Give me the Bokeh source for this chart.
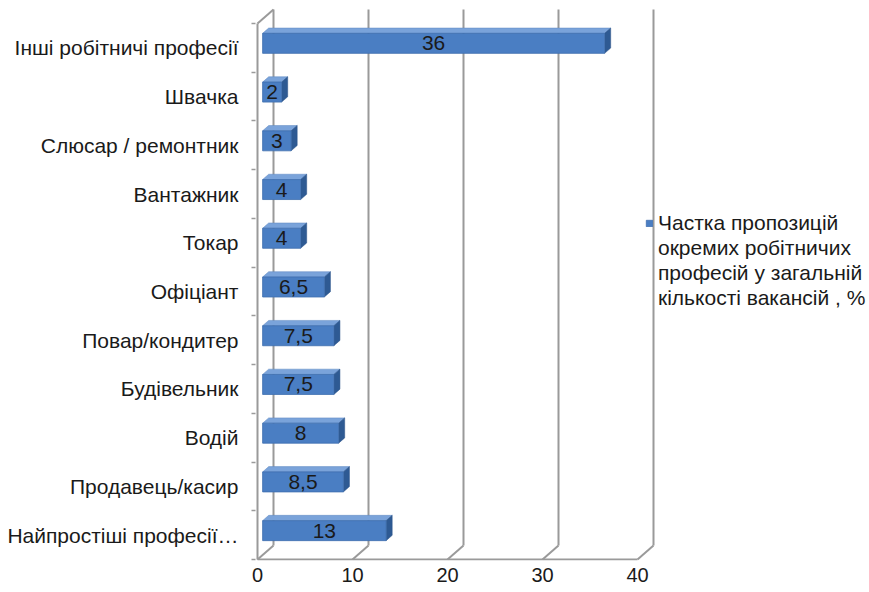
from bokeh.plotting import figure
from bokeh.models import FixedTicker, Legend, LegendItem, ColumnDataSource, Range1d
from bokeh.embed import file_html
from bokeh.resources import INLINE
from bokeh.core.properties import value

# ---- data ----
categories = ["Найпростіші професії…", "Продавець/касир", "Водій", "Будівельник",
              "Повар/кондитер", "Офіціант", "Токар", "Вантажник",
              "Слюсар / ремонтник", "Швачка", "Інші робітничі професії"]
values = [13, 8.5, 8, 7.5, 7.5, 6.5, 4, 4, 3, 2, 36]
value_labels = ["13", "8,5", "8", "7,5", "7,5", "6,5", "4", "4", "3", "2", "36"]
x_ticks = [0, 10, 20, 30, 40]
series_lines = ["Частка пропозицій", "окремих робітничих",
                "професій у загальній", "кількості вакансій , %"]

# ---- geometry (styling constants) ----
PX_X = 9.5       # px per x unit
PX_Y = 48.73     # px per category
DX = 16 / PX_X   # depth vector (full depth) in data units
DY = 14 / PX_Y
A, B = 0.32, 0.70
HALF = 10 / PX_Y
n = len(categories)
xmax = x_ticks[-1]

FONT = "Liberation Sans"
GRID = "#9a9a9a"
TXT = "#1a1a1a"

x0 = -2 / PX_X
y0 = -1 / PX_Y
p = figure(width=869, height=592, output_backend="svg", toolbar_location=None,
           x_range=Range1d(x0, x0 + 614 / PX_X), y_range=Range1d(y0, y0 + 555 / PX_Y),
           min_border_left=255, min_border_right=0, min_border_top=5, min_border_bottom=32)
p.outline_line_color = None
p.xgrid.visible = False
p.ygrid.visible = False
p.background_fill_color = "white"
p.border_fill_color = "white"

# back wall gridlines, floor diagonals and left wall
gx_front = list(x_ticks)
seg = ColumnDataSource(dict(
    x0=[t + DX for t in gx_front] + gx_front + [0, 0],
    y0=[DY] * len(gx_front) + [0] * len(gx_front) + [n, 0],
    x1=[t + DX for t in gx_front] + [t + DX for t in gx_front] + [DX, 0],
    y1=[n + DY] * len(gx_front) + [DY] * len(gx_front) + [n + DY, n],
))
p.segment("x0", "y0", "x1", "y1", source=seg, line_color=GRID, line_width=2)
# front floor line
p.segment(x0=[0], y0=[0], x1=[xmax], y1=[0], line_color=GRID, line_width=2)

# bars
fx, fy, tx, ty, sx, sy, lx, ly = [], [], [], [], [], [], [], []
ddx, ddy = (B - A) * DX, (B - A) * DY
for i, v in enumerate(values):
    c = i + 0.5 + A * DY
    lo, hi = c - HALF, c + HALF
    a0 = A * DX
    a1 = v + A * DX
    fx.append([a0, a1, a1, a0]); fy.append([lo, lo, hi, hi])
    tx.append([a0, a1, a1 + ddx, a0 + ddx]); ty.append([hi, hi, hi + ddy, hi + ddy])
    sx.append([a1, a1 + ddx, a1 + ddx, a1]); sy.append([lo, lo + ddy, hi + ddy, hi])
    lx.append((a0 + a1) / 2); ly.append(c)

p.patches(tx, ty, fill_color="#7aa3da", line_color="#5c86c0", line_width=0.5)
p.patches(sx, sy, fill_color="#2e5a93", line_color="#2a5289", line_width=0.5)
front = p.patches(fx, fy, fill_color="#4a7ec3", line_color="#3f6fae", line_width=0.8)

p.text(x=lx, y=ly, text=value_labels, text_align="center", text_baseline="middle",
       text_font=value(FONT), text_font_size="21px", text_color=TXT)

# axes
p.xaxis.ticker = FixedTicker(ticks=x_ticks)
p.xaxis.axis_line_color = None
p.xaxis.major_tick_line_color = None
p.xaxis.minor_tick_line_color = None
p.xaxis.major_tick_out = 0
p.xaxis.major_label_standoff = 7
p.xaxis.major_label_text_font = FONT
p.xaxis.major_label_text_font_size = "20px"
p.xaxis.major_label_text_color = TXT

centers = [i + 0.5 for i in range(n)]
p.yaxis.ticker = FixedTicker(ticks=centers, minor_ticks=list(range(n + 1)))
p.yaxis.major_label_overrides = {c: lab for c, lab in zip(centers, categories)}
p.yaxis.axis_line_color = None
p.yaxis.major_tick_line_color = None
p.yaxis.major_tick_out = 0
p.yaxis.major_tick_in = 0
p.yaxis.minor_tick_line_color = GRID
p.yaxis.minor_tick_out = 4
p.yaxis.minor_tick_in = 0
p.yaxis.minor_tick_line_width = 1.5
p.yaxis.major_label_standoff = 13
p.yaxis.major_label_text_font = FONT
p.yaxis.major_label_text_font_size = "21px"
p.yaxis.major_label_text_color = TXT

# legend
dummies = [p.rect(x=[], y=[], width=1, height=1, fill_alpha=0, line_alpha=0) for _ in range(3)]
items = [LegendItem(label=series_lines[0], renderers=[front])] + \
        [LegendItem(label=t, renderers=[d]) for t, d in zip(series_lines[1:], dummies)]
legend = Legend(items=items, location=(390, 250), border_line_color=None,
                background_fill_alpha=0, padding=0, margin=0, spacing=0,
                glyph_width=8, glyph_height=8, label_height=25, label_standoff=5,
                label_text_font=FONT, label_text_font_size="21px",
                label_text_color=TXT)
p.add_layout(legend, "center")

open("out.html", "w").write(file_html(p, INLINE))
